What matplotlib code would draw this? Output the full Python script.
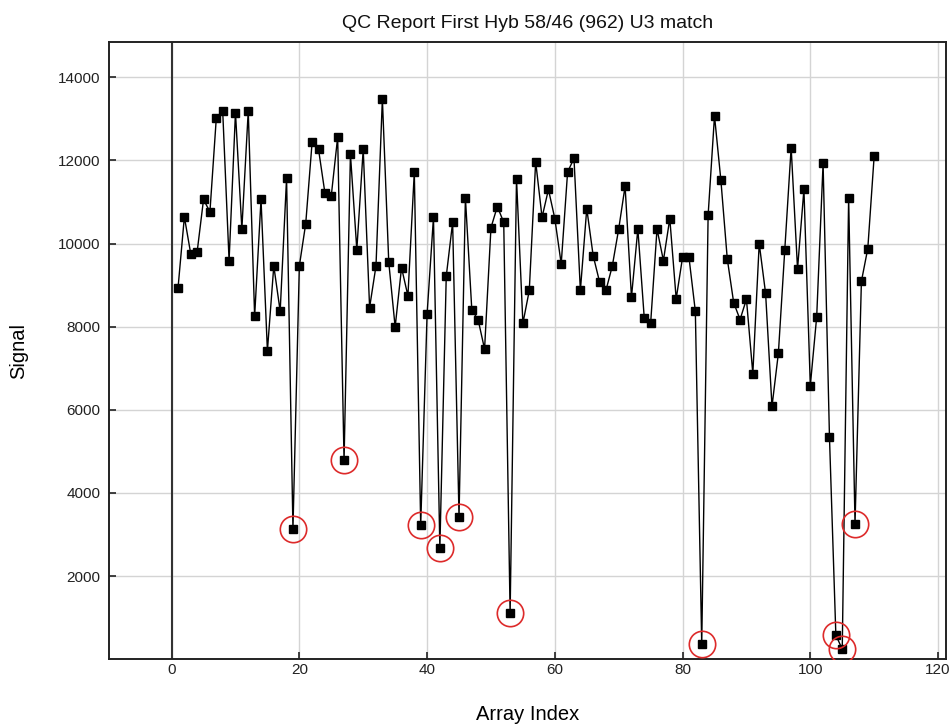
import matplotlib
matplotlib.use("Agg")
import matplotlib.pyplot as plt
import numpy as np

plt.rcParams['font.family'] = ['Liberation Sans', 'DejaVu Sans']

array_index = list(range(1, 111))
signal = [
    8920, 10640, 9750, 9800, 11060, 10760, 13020, 13190, 9590, 13150,
    10350, 13190, 8250, 11060, 7420, 9460, 8370, 11570, 3140, 9460,
    10480, 12440, 12270, 11220, 11150, 12560, 4780, 12150, 9850, 12270,
    8460, 9460, 13480, 9550, 7990, 9420, 8740, 11720, 3220, 8300,
    10630, 2670, 9210, 10510, 3430, 11100, 8410, 8160, 7460, 10380,
    10890, 10510, 1100, 11560, 8080, 8870, 11970, 10630, 11300, 10600,
    9510, 11720, 12050, 8870, 10840, 9710, 9080, 8870, 9460, 10350,
    11380, 8710, 10350, 8210, 8080, 10350, 9590, 10600, 8670, 9670,
    9670, 8370, 360, 10680, 13070, 11520, 9630, 8580, 8170, 8660,
    6870, 10000, 8800, 6080, 7360, 9840, 12310, 9390, 11300, 6580,
    8240, 11930, 5340, 580, 240, 11100, 3260, 9090, 9880, 12110,
]
flagged_index = [19, 27, 39, 42, 45, 53, 83, 104, 105, 107]
x_ticks = [0, 20, 40, 60, 80, 100, 120]
y_ticks = [2000, 4000, 6000, 8000, 10000, 12000, 14000]

title = "QC Report First Hyb 58/46 (962) U3 match"

fig = plt.figure(figsize=(9.52, 7.25), dpi=100)
ax = fig.add_axes([0.1145, 0.0908, 0.8789, 0.8509])

ax.set_xlim(-9.8, 121.2)
ax.set_ylim(0, 14842)
ax.set_xticks(x_ticks)
ax.set_yticks(y_ticks)
ax.grid(True, color='#d4d4d4', linewidth=1.0, zorder=0)
ax.set_axisbelow(True)
ax.axvline(0, color='#333333', linewidth=1.5, zorder=1)

ax.plot(array_index, signal, color='black', linewidth=1.0,
        marker='s', markersize=5.5, markerfacecolor='black',
        markeredgecolor='black', zorder=3)

sig_map = dict(zip(array_index, signal))
ax.plot(flagged_index, [sig_map[i] for i in flagged_index], linestyle='none',
        marker='o', markersize=19, markerfacecolor='none',
        markeredgecolor='#dd2a2a', markeredgewidth=1.2, zorder=4)

for s in ax.spines.values():
    s.set_linewidth(1.4)
    s.set_color('#222222')

ax.tick_params(axis='both', direction='in', length=5, width=1.2,
               labelsize=11, colors='#222222')
ax.tick_params(axis='x', pad=3)
ax.tick_params(axis='y', pad=6)

ax.set_title(title, fontsize=14, pad=10.3, color='#111111')
ax.set_xlabel("Array Index", fontsize=14.5, va='baseline')
ax.set_ylabel("Signal", fontsize=14.5)
ax.xaxis.set_label_coords(0.5, -0.0986)
ax.yaxis.set_label_coords(-0.097, 0.5)

fig.savefig("out.png", dpi=100)
